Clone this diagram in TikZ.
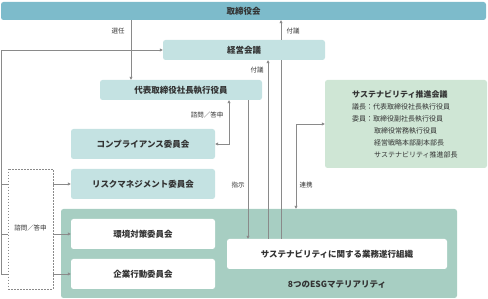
\documentclass[tikz,border=0pt]{standalone}
\usepackage{fontspec}
\setmainfont{Noto Sans CJK JP}
\usetikzlibrary{arrows.meta,calc}
\definecolor{boardc}{HTML}{7DBBCB}
\definecolor{lightc}{HTML}{C4E2E2}
\definecolor{greenc}{HTML}{CFE6D5}
\definecolor{bigc}{HTML}{A7CEC2}
\definecolor{txt}{HTML}{333333}
\definecolor{linec}{HTML}{8A8A8A}
\begin{document}
\begin{tikzpicture}[x=1pt,y=-1pt,
  box/.style={rectangle, rounded corners=2.5pt, text=txt, inner sep=0,
    font=\fontsize{8.5}{10}\selectfont\bfseries},
  conn/.style={draw=linec, line width=0.7pt},
  tip/.style={-{Triangle[length=3pt,width=3pt]}},
  tips/.style={{Triangle[length=3pt,width=3pt]}-{Triangle[length=3pt,width=3pt]}},
  lbl/.style={font=\fontsize{6.5}{8}\selectfont, text=txt, inner sep=0},
  gtxt/.style={anchor=west, inner sep=0, text=txt, font=\fontsize{7}{8}\selectfont}]
\useasboundingbox (0,0) rectangle (488,299);

% boxes
\node[box, fill=boardc, minimum width=485, minimum height=18] (board) at (243.5,11) {取締役会};
\node[box, fill=lightc, minimum width=162, minimum height=20] (keiei) at (244,50) {経営会議};
\node[box, fill=lightc, minimum width=162, minimum height=20] (daihyo) at (181,90) {代表取締役社長執行役員};
\node[box, fill=lightc, minimum width=144, minimum height=30] (comp) at (143,144) {コンプライアンス委員会};
\node[box, fill=lightc, minimum width=144, minimum height=30] (risk) at (143,184) {リスクマネジメント委員会};
\node[box, fill=greenc, minimum width=162, minimum height=88] (green) at (406,124) {};
\node[box, fill=bigc, minimum width=396, minimum height=89] (big) at (259,253.5) {};
\node[box, fill=white, minimum width=144, minimum height=30] (kankyo) at (143,234) {環境対策委員会};
\node[box, fill=white, minimum width=144, minimum height=30] (kigyo) at (143,274) {企業行動委員会};
\node[box, fill=white, minimum width=220, minimum height=30] (white) at (337,254) {サステナビリティに関する業務遂行組織};
\node[box] (esg) at (337,285) {8つのESGマテリアリティ};
\node[draw=linec, dashed, dash pattern=on 1.5pt off 1.5pt, line width=0.6pt, minimum width=45, minimum height=120, inner sep=0] (dash) at (30.5,229) {};
\node[lbl] (dashlbl) at (30.5,228) {諮問／答申};

% green box text
\node[gtxt, font=\fontsize{8}{9}\selectfont\bfseries] (g0) at (352,94) {サステナビリティ推進会議};
\node[gtxt] (g1) at (352,107) {議長：代表取締役社長執行役員};
\node[gtxt] (g2) at (352,119) {委員：取締役副社長執行役員};
\node[gtxt] (g3) at (374,131) {取締役常務執行役員};
\node[gtxt] (g4) at (374,143) {経営戦略本部副本部長};
\node[gtxt] (g5) at (374,155) {サステナビリティ推進部長};

% helper coordinates
\coordinate (x131) at (131,0);
\coordinate (x248) at (248,0);
\coordinate (x268) at (268,0);
\coordinate (x281) at (281,0);
\coordinate (cb) at (229,144);
\coordinate (rk) at (296,124);
\coordinate (lt) at (1,50);
\coordinate (lb) at (1,274);

% connectors
\draw[conn,tip] (board.south -| x131) -- (daihyo.north -| x131);
\draw[conn] (white.north -| x281) -- (keiei.south -| x281);
\draw[conn,tip] (keiei.north -| x281) -- (board.south -| x281);
\draw[conn,tip] (white.north -| x268) -- (keiei.south -| x268);
\draw[conn,tip] (daihyo.south -| x248) -- (white.north -| x248);
\draw[conn,tips] (comp.east) -- (cb) -- (daihyo.south -| cb);
\draw[conn,tips] (green.west) -- (rk) -- (big.north -| rk);
\draw[conn,tip] (dash.west |- lb) -- (lb) -- (lt) -- (keiei.west);
\draw[conn] (dash.west |- risk.west) -- (risk.west -| lb);
\draw[conn] (dash.west |- kankyo.west) -- (kankyo.west -| lb);
\draw[conn,tip] (dash.east |- risk.west) -- (risk.west);
\draw[conn,tip] (dash.east |- kankyo.west) -- (kankyo.west);
\draw[conn,tip] (dash.east |- kigyo.west) -- (kigyo.west);

% labels
\node[lbl] (l1) at (118,31) {選任};
\node[lbl] (l2) at (293,31) {付議};
\node[lbl] (l3) at (257,70) {付議};
\node[lbl] (l4) at (207,115) {諮問／答申};
\node[lbl] (l5) at (238,185) {指示};
\node[lbl] (l6) at (306,185) {連携};
\end{tikzpicture}
\end{document}
